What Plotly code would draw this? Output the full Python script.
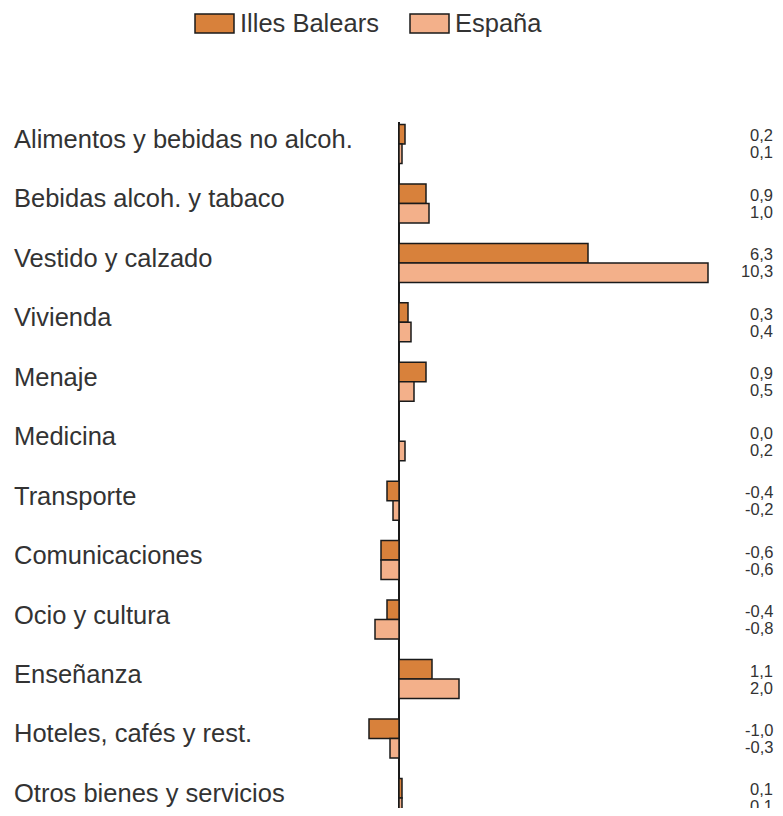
import plotly.graph_objects as go

categories = [
    "Alimentos y bebidas no alcoh.",
    "Bebidas alcoh. y tabaco",
    "Vestido y calzado",
    "Vivienda",
    "Menaje",
    "Medicina",
    "Transporte",
    "Comunicaciones",
    "Ocio y cultura",
    "Enseñanza",
    "Hoteles, cafés y rest.",
    "Otros bienes y servicios",
]
illes_balears = [0.2, 0.9, 6.3, 0.3, 0.9, 0.0, -0.4, -0.6, -0.4, 1.1, -1.0, 0.1]
espana = [0.1, 1.0, 10.3, 0.4, 0.5, 0.2, -0.2, -0.6, -0.8, 2.0, -0.3, 0.1]
series_names = ["Illes Balears", "España"]
colors = ["#D8813B", "#F3B08A"]

OFF = 8  # page body margin
W, H = 783 - 2 * OFF, 816 - 2 * OFF
L, T, B = 360 - OFF, 122 - OFF, 0
R = W - (711 - OFF)
pw, ph = W - L - R, H - T - B


def px_x(x):
    # page pixel -> paper
    return (x - OFF - L) / pw


def px_y(y):
    return (H - B - (y - OFF)) / ph


fig = go.Figure()
for name, vals, col in zip(series_names, [illes_balears, espana], colors):
    fig.add_trace(go.Bar(
        y=categories, x=vals, name=name, orientation="h",
        marker=dict(color=col, line=dict(color="#1a1a1a", width=1.5)),
        showlegend=False, hoverinfo="x+y",
    ))

fmt = lambda v: f"{v:.1f}".replace(".", ",")
ann = []
txtcol = "#333333"
for c, a, e in zip(categories, illes_balears, espana):
    ann.append(dict(x=px_x(12), xref="paper", y=c, yref="y", text=c, showarrow=False,
                    xanchor="left", yanchor="middle", yshift=5,
                    font=dict(family="Liberation Sans, Arial", size=25.5, color=txtcol)))
    ann.append(dict(x=px_x(774), xref="paper", y=c, yref="y", text=fmt(a), showarrow=False,
                    xanchor="right", yanchor="middle", yshift=8.5, borderpad=0,
                    font=dict(family="Liberation Sans, Arial", size=16.5, color=txtcol)))
    ann.append(dict(x=px_x(774), xref="paper", y=c, yref="y", text=fmt(e), showarrow=False,
                    xanchor="right", yanchor="middle", yshift=-8.5, borderpad=0,
                    font=dict(family="Liberation Sans, Arial", size=16.5, color=txtcol)))

# manual legend
shapes = []
leg = [(195, 234, 238, series_names[0], colors[0]), (410, 449, 453, series_names[1], colors[1])]
for x0, x1, tx, name, col in leg:
    shapes.append(dict(type="rect", xref="paper", yref="paper",
                       x0=px_x(x0), x1=px_x(x1), y0=px_y(33), y1=px_y(14),
                       fillcolor=col, line=dict(color="#1a1a1a", width=1.5)))
    ann.append(dict(x=px_x(tx), xref="paper", y=px_y(23), yref="paper", text=name,
                    showarrow=False, xanchor="left", yanchor="middle",
                    font=dict(family="Liberation Sans, Arial", size=25.5, color=txtcol)))

fig.update_layout(
    width=W, height=H,
    margin=dict(l=L, r=R, t=T, b=B, pad=0),
    paper_bgcolor="white", plot_bgcolor="white",
    barmode="group", bargap=0.344, bargroupgap=0,
    xaxis=dict(range=[-1.3, 10.4], showgrid=False, showticklabels=False, ticks="",
               zeroline=True, zerolinecolor="#1a1a1a", zerolinewidth=1.5, showline=False),
    yaxis=dict(type="category", categoryorder="array", categoryarray=categories,
               range=[11.17, -0.37], showgrid=False, showticklabels=False, ticks="",
               zeroline=False, showline=False),
    annotations=ann, shapes=shapes,
)

fig.write_html("out.html")
